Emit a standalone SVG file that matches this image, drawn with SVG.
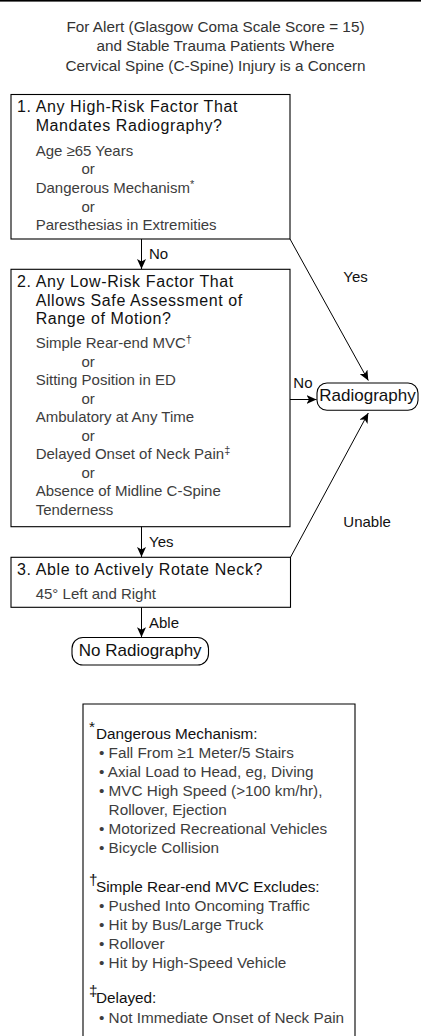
<svg xmlns="http://www.w3.org/2000/svg" width="421" height="1036" viewBox="0 0 421 1036">
<style>
text { font-family: "Liberation Sans", Arial, Helvetica, sans-serif; }
.title { font-size: 15.3px; fill: #333; text-anchor: middle; }
.hd { font-size: 16px; letter-spacing: 0.6px; fill: #111; }
.it { font-size: 15px; fill: #3d3d3d; }
.lbl { font-size: 15px; fill: #111; }
.term { font-size: 17px; fill: #111; text-anchor: middle; }
.box { fill: none; stroke: #000; stroke-width: 1.1; }
.conn { fill: none; stroke: #000; stroke-width: 1; }
.lg { font-size: 15.3px; fill: #3d3d3d; }
.lgh { font-size: 15.3px; fill: #111; }
.sup { font-size: 11px; }
</style>
<defs>
<marker id="ah" markerUnits="userSpaceOnUse" markerWidth="11" markerHeight="9" refX="10" refY="4.5" orient="auto">
<path d="M0,0 L10,4.5 L0,9 L2.5,4.5 z" fill="#000"/>
</marker>
</defs>
<rect x="0" y="0" width="421" height="1.6" fill="#000"/>
<g id="title">
<text class="title" x="215.5" y="32">For Alert (Glasgow Coma Scale Score = 15)</text>
<text class="title" x="215.5" y="51">and Stable Trauma Patients Where</text>
<text class="title" x="215.5" y="70.5">Cervical Spine (C-Spine) Injury is a Concern</text>
</g>
<g id="node1">
<rect class="box" x="11" y="94.5" width="279" height="144.5"/>
<text class="hd" x="17" y="112">1. Any High-Risk Factor That</text>
<text class="hd" x="35.7" y="130.5">Mandates Radiography?</text>
<text class="it" x="35.7" y="155.7">Age ≥65 Years</text>
<text class="it" x="81.5" y="174.3">or</text>
<text class="it" x="35.7" y="192.8">Dangerous Mechanism<tspan class="sup" dy="-5">*</tspan></text>
<text class="it" x="81.5" y="211.5">or</text>
<text class="it" x="35.7" y="230.2">Paresthesias in Extremities</text>
</g>
<g id="node2">
<rect class="box" x="11" y="269.3" width="279" height="257.4"/>
<text class="hd" x="17" y="287">2. Any Low-Risk Factor That</text>
<text class="hd" x="35.7" y="305.5">Allows Safe Assessment of</text>
<text class="hd" x="35.7" y="324">Range of Motion?</text>
<text class="it" x="35.7" y="348">Simple Rear-end MVC<tspan class="sup" dy="-5">†</tspan></text>
<text class="it" x="81.5" y="366.5">or</text>
<text class="it" x="35.7" y="385">Sitting Position in ED</text>
<text class="it" x="81.5" y="403.5">or</text>
<text class="it" x="35.7" y="422">Ambulatory at Any Time</text>
<text class="it" x="81.5" y="440.5">or</text>
<text class="it" x="35.7" y="459">Delayed Onset of Neck Pain<tspan class="sup" dy="-5">‡</tspan></text>
<text class="it" x="81.5" y="477.5">or</text>
<text class="it" x="35.7" y="496">Absence of Midline C-Spine</text>
<text class="it" x="35.7" y="514.5">Tenderness</text>
</g>
<g id="node3">
<rect class="box" x="11" y="557.3" width="279.5" height="50"/>
<text class="hd" x="17" y="575">3. Able to Actively Rotate Neck?</text>
<text class="it" x="35.7" y="599">45° Left and Right</text>
</g>
<g id="radiography">
<rect class="box" x="317" y="383" width="101" height="27.3" rx="10" ry="10"/>
<text class="term" x="367.5" y="401">Radiography</text>
</g>
<g id="noRadiography">
<rect class="box" x="72" y="637.5" width="136.5" height="27.5" rx="11" ry="11"/>
<text class="term" x="140.2" y="656">No Radiography</text>
</g>
<g id="connectors">
<line class="conn" x1="141.5" y1="239" x2="141.5" y2="269" marker-end="url(#ah)"/>
<text class="lbl" x="149" y="259.3">No</text>
<line class="conn" x1="141.5" y1="526.7" x2="141.5" y2="557" marker-end="url(#ah)"/>
<text class="lbl" x="149" y="546.8">Yes</text>
<line class="conn" x1="141.5" y1="607.3" x2="141.5" y2="637.3" marker-end="url(#ah)"/>
<text class="lbl" x="149" y="628.3">Able</text>
<line class="conn" x1="290" y1="239" x2="368.3" y2="380.5" marker-end="url(#ah)"/>
<text class="lbl" x="343.3" y="281.7">Yes</text>
<line class="conn" x1="290" y1="399.5" x2="316.5" y2="399.5" marker-end="url(#ah)"/>
<text class="lbl" x="293.3" y="388.3">No</text>
<line class="conn" x1="290.5" y1="557.3" x2="368.3" y2="413" marker-end="url(#ah)"/>
<text class="lbl" x="343.3" y="526.7">Unable</text>
</g>
<g id="legend">
<path class="box" d="M83,1036 V704 H355 V1036"/>
<text class="lgh" x="89" y="732" font-size="12">*</text>
<text class="lgh" x="96" y="739">Dangerous Mechanism:</text>
<text class="lg" x="99" y="758">• Fall From ≥1 Meter/5 Stairs</text>
<text class="lg" x="99" y="777">• Axial Load to Head, eg, Diving</text>
<text class="lg" x="99" y="796">• MVC High Speed (&gt;100 km/hr),</text>
<text class="lg" x="108.6" y="815">Rollover, Ejection</text>
<text class="lg" x="99" y="834">• Motorized Recreational Vehicles</text>
<text class="lg" x="99" y="853">• Bicycle Collision</text>
<text class="lgh" x="89" y="885" font-size="12">†</text>
<text class="lgh" x="96" y="892">Simple Rear-end MVC Excludes:</text>
<text class="lg" x="99" y="911">• Pushed Into Oncoming Traffic</text>
<text class="lg" x="99" y="930">• Hit by Bus/Large Truck</text>
<text class="lg" x="99" y="949">• Rollover</text>
<text class="lg" x="99" y="968">• Hit by High-Speed Vehicle</text>
<text class="lgh" x="89" y="996" font-size="12">‡</text>
<text class="lgh" x="96" y="1003">Delayed:</text>
<text class="lg" x="99" y="1023">• Not Immediate Onset of Neck Pain</text>
</g>
</svg>
